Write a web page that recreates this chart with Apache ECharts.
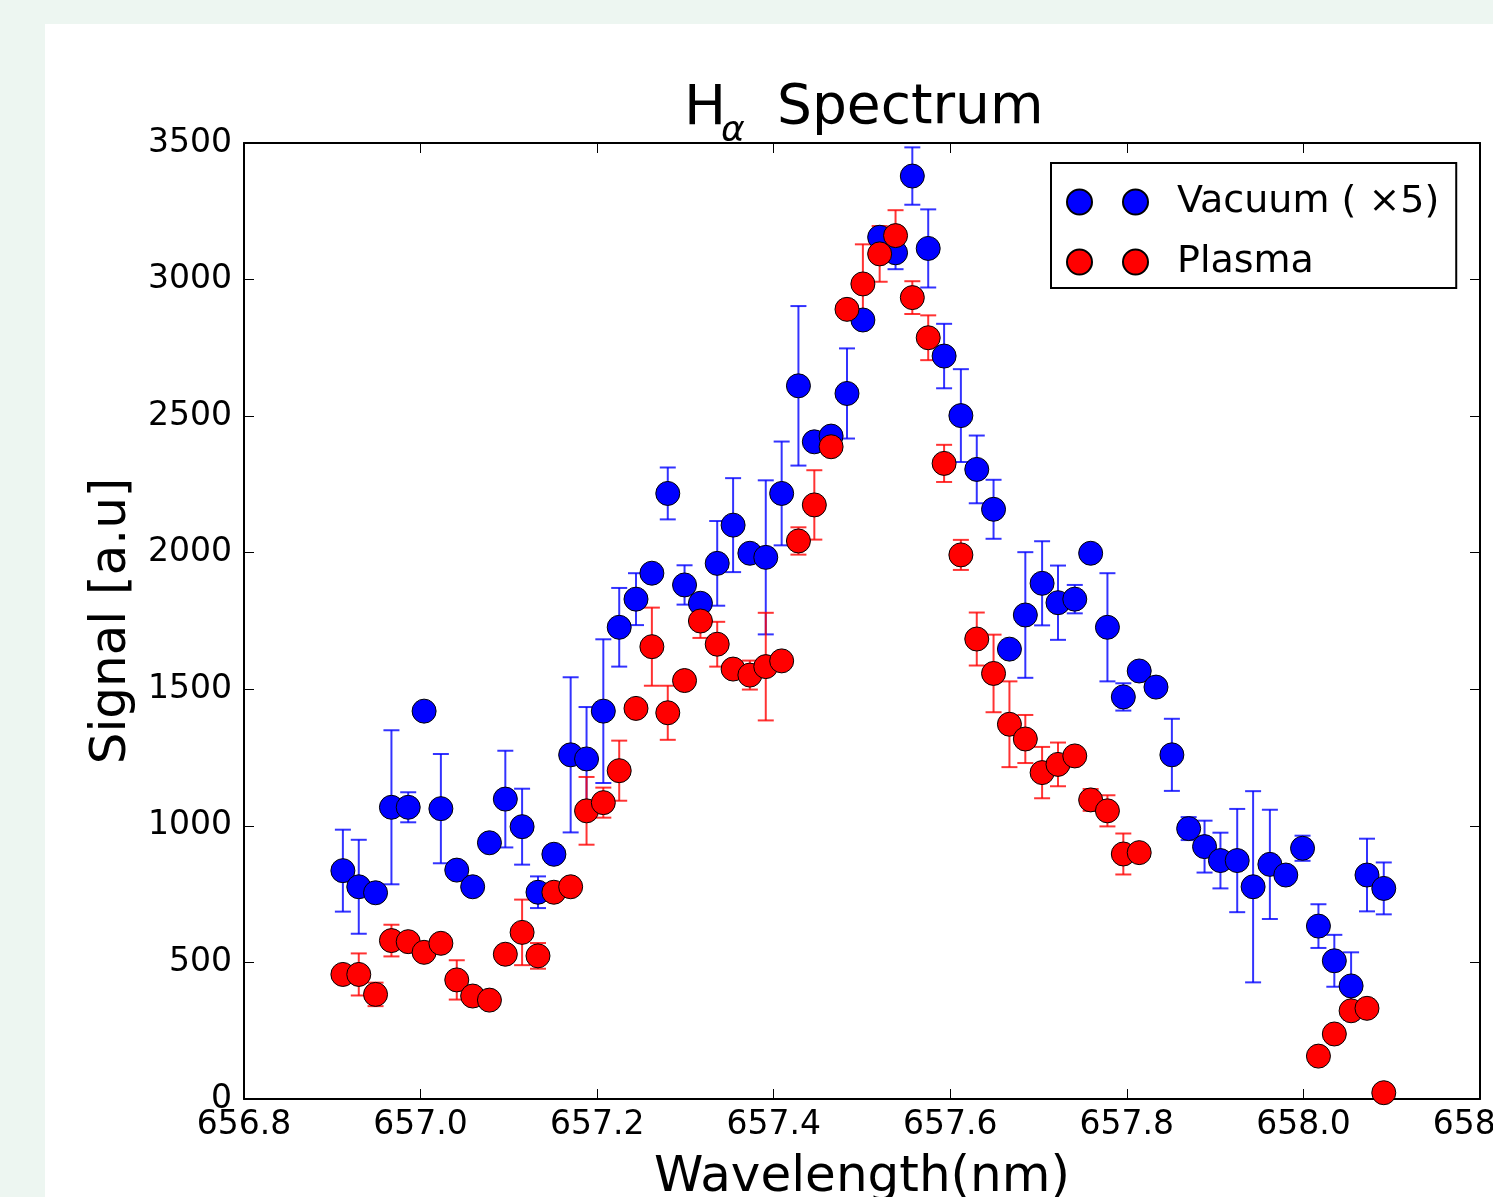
<!DOCTYPE html>
<html>
<head>
<meta charset="utf-8">
<script src="https://cdn.jsdelivr.net/npm/echarts@6/dist/echarts.min.js"></script>
<style>
  html, body { margin: 0; padding: 0; background: #edf6f1; }
  #panel { position: absolute; left: 45px; top: 24px; right: 0; bottom: 0; background: #ffffff; }
  #chart { position: absolute; left: 0; top: 0; width: 1493px; height: 1197px; }
</style>
</head>
<body>
<div id="panel"></div>
<div id="chart"></div>
<script>
// ---- data ----
const wavelength = [
  656.912, 656.930, 656.949, 656.967, 656.986,
  657.004, 657.023, 657.041, 657.059, 657.078,
  657.096, 657.115, 657.133, 657.151, 657.170,
  657.188, 657.207, 657.225, 657.244, 657.262,
  657.280, 657.299, 657.317, 657.336, 657.354,
  657.373, 657.391, 657.409, 657.428, 657.446,
  657.465, 657.483, 657.501, 657.520, 657.538,
  657.557, 657.575, 657.593, 657.612, 657.630,
  657.649, 657.667, 657.685, 657.704, 657.722,
  657.741, 657.759, 657.778, 657.796, 657.814,
  657.833, 657.851, 657.870, 657.888, 657.906,
  657.925, 657.943, 657.962, 657.980, 657.999,
  658.017, 658.035, 658.054, 658.072, 658.091
];
const vacuum = [
  836, 777, 755, 1068, 1068,
  1420, 1063, 838, 777, 938,
  1098, 997, 757, 896, 1260,
  1245, 1420, 1727, 1830, 1925,
  2217, 1882, 1815, 1961, 2101,
  1998, 1983, 2217, 2611, 2406,
  2427, 2583, 2852, 3155, 3098,
  3379, 3114, 2720, 2502, 2305,
  2159, 1647, 1772, 1888, 1817,
  1830, 1998, 1727, 1472, 1567,
  1508, 1260, 990, 924, 873,
  873, 777, 859, 820, 918,
  633, 506, 414, 820, 771
];
const vacuumErr = [
  150, 172, 0, 282, 55,
  0, 200, 0, 0, 0,
  177, 139, 58, 0, 284,
  190, 263, 144, 95, 0,
  95, 72, 25, 155, 172,
  0, 282, 190, 292, 0,
  0, 165, 0, 0, 60,
  105, 143, 118, 170, 124,
  108, 0, 230, 154, 136,
  52, 0, 198, 50, 0,
  0, 132, 42, 95, 102,
  189, 350, 200, 0, 46,
  80, 95, 123, 133, 95
];
const plasma = [
  456, 456, 383, 580, 576,
  537, 570, 436, 377, 362,
  530, 610, 524, 757, 777,
  1055, 1085, 1202, 1430, 1656,
  1414, 1532, 1750, 1665, 1574,
  1552, 1583, 1604, 2043, 2175,
  2388, 2891, 2984, 3094, 3161,
  2934, 2787, 2327, 1992, 1684,
  1558, 1372, 1318, 1195, 1225,
  1256, 1095, 1055, 897, 902,
  null, null, null, null, null,
  null, null, null, null, null,
  157, 238, 323, 332, 23
];
const plasmaErr = [
  0, 77, 43, 58, 0,
  0, 0, 72, 0, 0,
  0, 120, 47, 0, 0,
  124, 55, 110, 0, 143,
  99, 0, 62, 82, 30,
  53, 197, 0, 50, 127,
  0, 0, 145, 102, 93,
  60, 82, 68, 55, 97,
  142, 157, 88, 94, 80,
  0, 40, 57, 75, 0,
  null, null, null, null, null,
  null, null, null, null, null,
  0, 0, 0, 15, 0
];
const seriesNames = ['Vacuum ( \u00d75)', 'Plasma'];
const xTicks = { min: 656.8, max: 658.2, step: 0.2 };
const yTicks = { min: 0, max: 3500, step: 500 };

// ---- build ----
function points(vals) {
  const out = [];
  vals.forEach((v, i) => { if (v != null) out.push([wavelength[i], v]); });
  return out;
}
function bars(vals, errs) {
  const out = [];
  vals.forEach((v, i) => {
    if (v != null && errs[i] > 0) out.push([wavelength[i], v - errs[i], v + errs[i]]);
  });
  return out;
}
function errRenderer(color) {
  return function (params, api) {
    const x = api.value(0);
    const lo = api.coord([x, api.value(1)]);
    const hi = api.coord([x, api.value(2)]);
    const hw = 8;
    const st = { stroke: color, lineWidth: 2 };
    return {
      type: 'group',
      children: [
        { type: 'line', shape: { x1: lo[0], y1: lo[1], x2: hi[0], y2: hi[1] }, style: st },
        { type: 'line', shape: { x1: lo[0] - hw, y1: lo[1], x2: lo[0] + hw, y2: lo[1] }, style: st },
        { type: 'line', shape: { x1: hi[0] - hw, y1: hi[1], x2: hi[0] + hw, y2: hi[1] }, style: st }
      ]
    };
  };
}

const FONT = 'DejaVu Sans';
const twoDots = 'path://M0,12.5A12.5,12.5,0,1,1,25,12.5A12.5,12.5,0,1,1,0,12.5ZM56,12.5A12.5,12.5,0,1,1,81,12.5A12.5,12.5,0,1,1,56,12.5Z';

const chart = echarts.init(document.getElementById('chart'), null, { renderer: 'canvas' });
const axisCommon = {
  type: 'value',
  splitLine: { show: false },
  axisLine: { show: true, onZero: false, lineStyle: { color: '#000', width: 2 } },
  axisTick: { show: true, inside: true, length: 10, lineStyle: { color: '#000', width: 1 } }
};
chart.setOption({
  animation: false,
  backgroundColor: 'transparent',
  grid: { left: 244, right: 13, top: 143, bottom: 98, containLabel: false, outerBoundsMode: 'none' },
  graphic: [
    { type: 'text', left: 684, top: 81, z: 100,
      style: { text: 'H', fontSize: 56, fontFamily: FONT, fill: '#000' } },
    { type: 'text', left: 721, top: 114, z: 100,
      style: { text: '\u03b1', fontSize: 36, fontFamily: FONT, fontStyle: 'italic', fill: '#000' } },
    { type: 'text', left: 777, top: 81, z: 100,
      style: { text: 'Spectrum', fontSize: 55, fontFamily: FONT, fill: '#000' } }
  ],
  legend: {
    data: seriesNames,
    orient: 'vertical',
    left: 1051, top: 163,
    padding: [19, 17, 6, 15],
    itemGap: 20,
    itemWidth: 81, itemHeight: 25,
    icon: twoDots,
    backgroundColor: '#fff',
    borderColor: '#000',
    borderWidth: 2,
    borderRadius: 0,
    textStyle: { fontSize: 38, fontFamily: FONT, color: '#000', lineHeight: 40, padding: [0, 0, 0, 24] }
  },
  xAxis: [
    Object.assign({}, axisCommon, {
      position: 'bottom',
      min: xTicks.min, max: xTicks.max, interval: xTicks.step,
      axisLabel: { fontSize: 33, fontFamily: FONT, color: '#000', margin: 10,
        formatter: v => v.toFixed(1) },
      name: 'Wavelength(nm)', nameLocation: 'middle', nameGap: 54,
      nameTextStyle: { fontSize: 50, fontFamily: FONT, color: '#000' }
    }),
    Object.assign({}, axisCommon, {
      position: 'top',
      min: xTicks.min, max: xTicks.max, interval: xTicks.step,
      axisLabel: { show: false }
    })
  ],
  yAxis: [
    Object.assign({}, axisCommon, {
      position: 'left',
      min: yTicks.min, max: yTicks.max, interval: yTicks.step,
      axisLabel: { fontSize: 33, fontFamily: FONT, color: '#000', margin: 12,
        formatter: v => String(v) },
      name: 'Signal [a.u]', nameLocation: 'middle', nameGap: 101,
      nameTextStyle: { fontSize: 50, fontFamily: FONT, color: '#000' }
    }),
    Object.assign({}, axisCommon, {
      position: 'right',
      min: yTicks.min, max: yTicks.max, interval: yTicks.step,
      axisLabel: { show: false }
    })
  ],
  series: [
    { name: 'vacErr', type: 'custom', xAxisIndex: 0, yAxisIndex: 0,
      renderItem: errRenderer('rgba(0,0,255,0.8)'), encode: { x: 0, y: [1, 2] },
      data: bars(vacuum, vacuumErr), z: 2 },
    { name: seriesNames[0], type: 'scatter', xAxisIndex: 0, yAxisIndex: 0,
      symbol: 'circle', symbolSize: 24,
      itemStyle: { color: '#0000ff', borderColor: '#000', borderWidth: 1, opacity: 1 },
      data: points(vacuum), z: 2 },
    { name: 'plaErr', type: 'custom', xAxisIndex: 0, yAxisIndex: 0,
      renderItem: errRenderer('rgba(255,0,0,0.8)'), encode: { x: 0, y: [1, 2] },
      data: bars(plasma, plasmaErr), z: 2 },
    { name: seriesNames[1], type: 'scatter', xAxisIndex: 0, yAxisIndex: 0,
      symbol: 'circle', symbolSize: 24,
      itemStyle: { color: '#ff0000', borderColor: '#000', borderWidth: 1, opacity: 1 },
      data: points(plasma), z: 2 }
  ]
});
</script>
</body>
</html>
